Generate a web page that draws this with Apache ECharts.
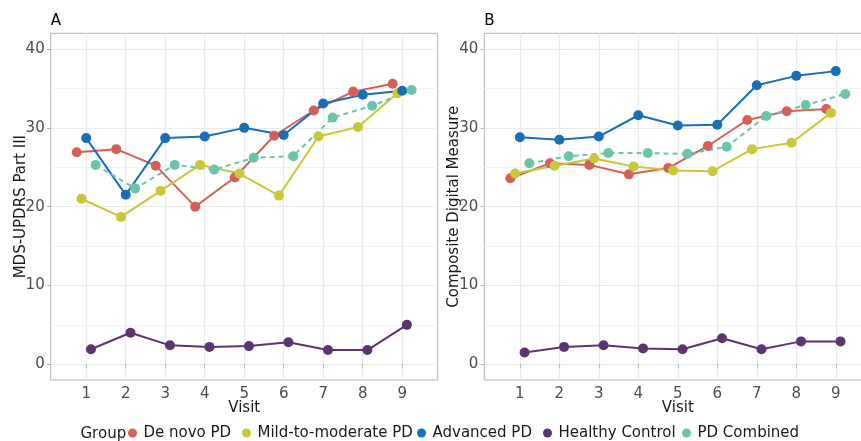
<!DOCTYPE html>
<html>
<head>
<meta charset="utf-8">
<script src="https://cdn.jsdelivr.net/npm/echarts@6/dist/echarts.min.js"></script>
<style>
html,body{margin:0;padding:0;background:#fff;}
#chart{width:861px;height:441px;}
</style>
</head>
<body>
<div id="chart"></div>
<script>
// ---------- data ----------
const visits = [1, 2, 3, 4, 5, 6, 7, 8, 9];
const groups = ['De novo PD', 'Mild-to-moderate PD', 'Advanced PD', 'Healthy Control', 'PD Combined'];
const yTicks = [0, 10, 20, 30, 40];
const yMinorTicks = [5, 15, 25, 35];

// Panel A: MDS-UPDRS Part III
const updrsDeNovo    = [26.9, 27.3, 25.2, 20.0, 23.7, 29.0, 32.2, 34.6, 35.6];
const updrsMild      = [21.0, 18.7, 22.0, 25.3, 24.2, 21.4, 28.9, 30.1, 34.4];
const updrsAdvanced  = [28.7, 21.5, 28.7, 28.9, 30.0, 29.1, 33.1, 34.2, 34.7];
const updrsHealthy   = [1.9, 4.0, 2.4, 2.2, 2.3, 2.8, 1.8, 1.8, 5.0];
const updrsCombined  = [25.3, 22.3, 25.3, 24.7, 26.2, 26.4, 31.3, 32.8, 34.8];

// Panel B: Composite Digital Measure
const cdmDeNovo    = [23.6, 25.5, 25.3, 24.1, 24.9, 27.7, 31.0, 32.1, 32.4];
const cdmMild      = [24.2, 25.2, 26.1, 25.1, 24.6, 24.5, 27.3, 28.1, 31.9];
const cdmAdvanced  = [28.8, 28.5, 28.9, 31.6, 30.3, 30.4, 35.4, 36.6, 37.2];
const cdmHealthy   = [1.5, 2.2, 2.4, 2.0, 1.9, 3.3, 1.9, 2.9, 2.9];
const cdmCombined  = [25.5, 26.4, 26.8, 26.8, 26.7, 27.6, 31.5, 32.9, 34.3];

// ---------- styling ----------
const colors = ['#D4605A', '#C8C83A', '#1A6EB7', '#5C356F', '#6CC5AB'];
const dodge = [-0.24, -0.12, 0, 0.12, 0.24];
const FONT = 'DejaVu Sans';

const panelA = [updrsDeNovo, updrsMild, updrsAdvanced, updrsHealthy, updrsCombined];
const panelB = [cdmDeNovo, cdmMild, cdmAdvanced, cdmHealthy, cdmCombined];

function makeSeries(panel, axisIdx) {
  return panel.map((vals, i) => ({
    name: groups[i],
    type: 'line',
    xAxisIndex: axisIdx,
    yAxisIndex: axisIdx * 2,
    data: visits.map((v, k) => [v + dodge[i], vals[k]]),
    symbol: 'circle',
    symbolSize: 10,
    showSymbol: true,
    color: colors[i],
    itemStyle: { color: colors[i] },
    lineStyle: { color: colors[i], width: 2, type: i === 4 ? [5, 4] : 'solid' },
    emphasis: { disabled: true },
    z: 2
  }));
}

const grids = [
  { left: 50.7, top: 33.3, width: 387, height: 346.7 },
  { left: 484.3, top: 33.3, width: 387, height: 346.7 }
];

function xAxis(gi) {
  return {
    type: 'value', gridIndex: gi, min: 0.1, max: 9.9,
    name: 'Visit', nameLocation: 'middle', nameGap: 21, nameMoveOverlap: false,
    nameTextStyle: { fontFamily: FONT, fontSize: 15, color: '#1a1a1a' },
    axisLine: { show: false },
    axisTick: { show: true, length: 3.5, lineStyle: { color: '#b3b3b3', width: 1 }, customValues: visits },
    axisLabel: { customValues: visits, fontFamily: FONT, fontSize: 15, color: '#4d4d4d', margin: 7 },
    splitLine: { show: true, lineStyle: { color: '#ebebeb', width: 1.2 } }
  };
}
function yAxis(gi, name, gap) {
  return {
    type: 'value', gridIndex: gi, min: -2, max: 42,
    name: name, nameLocation: 'middle', nameGap: gap, nameMoveOverlap: false,
    nameTextStyle: { fontFamily: FONT, fontSize: 15, color: '#1a1a1a' },
    axisLine: { show: false },
    axisTick: { show: true, length: 3.5, lineStyle: { color: '#b3b3b3', width: 1 }, customValues: yTicks },
    axisLabel: { customValues: yTicks, fontFamily: FONT, fontSize: 15, color: '#4d4d4d', margin: 6 },
    splitLine: { show: true, lineStyle: { color: '#ebebeb', width: 1.2 } }
  };
}
function yMinor(gi) {
  return {
    type: 'value', gridIndex: gi, min: -2, max: 42, position: 'left',
    axisLine: { show: false },
    axisTick: { show: false, customValues: yMinorTicks },
    axisLabel: { show: false, customValues: yMinorTicks },
    splitLine: { show: true, lineStyle: { color: '#f3f3f3', width: 1 } }
  };
}

const legendCenters = [134, 248, 423, 549, 688];
const legends = groups.map((g, i) => ({
  data: [{ name: g, icon: 'circle', itemStyle: { color: colors[i] } }],
  left: legendCenters[i] - 6, top: 425.5,
  padding: 0, itemWidth: 12, itemHeight: 9, itemGap: 0,
  textStyle: { fontFamily: FONT, fontSize: 15, color: '#1a1a1a' },
  selectedMode: true
}));

const option = {
  animation: false,
  backgroundColor: '#ffffff',
  grid: grids.map(g => Object.assign({ show: true, borderColor: '#b3b3b3', borderWidth: 1, backgroundColor: 'transparent', outerBoundsMode: 'none', containLabel: false }, g)),
  xAxis: [xAxis(0), xAxis(1)],
  yAxis: [yAxis(0, 'MDS-UPDRS Part III', 22), yMinor(0), yAxis(1, 'Composite Digital Measure', 23), yMinor(1)],
  legend: legends,
  series: makeSeries(panelA, 0).concat(makeSeries(panelB, 1)),
  graphic: [
    { type: 'text', left: 50.7, top: 14, style: { text: 'A', fontFamily: FONT, fontSize: 15, fill: '#000' } },
    { type: 'text', left: 484.3, top: 14, style: { text: 'B', fontFamily: FONT, fontSize: 15, fill: '#000' } },
    { type: 'text', left: 80.5, top: 426.5, style: { text: 'Group', fontFamily: FONT, fontSize: 15, fill: '#1a1a1a' } }
  ]
};

const chart = echarts.init(document.getElementById('chart'), null, { renderer: 'canvas' });
chart.setOption(option);
</script>
</body>
</html>
